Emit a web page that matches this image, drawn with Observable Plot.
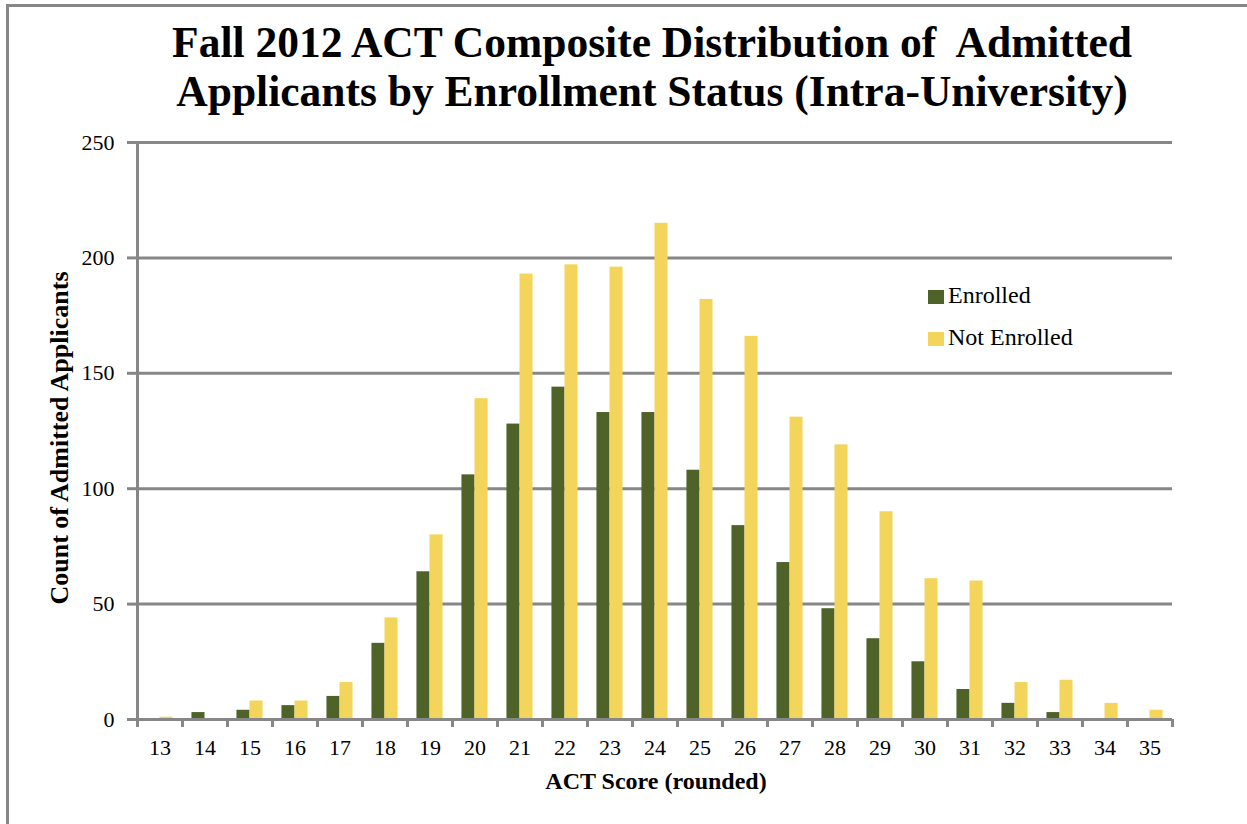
<!DOCTYPE html>
<html>
<head>
<meta charset="utf-8">
<script src="https://cdn.jsdelivr.net/npm/d3@7"></script>
<script src="https://cdn.jsdelivr.net/npm/@observablehq/plot@0.6"></script>
<style>
html, body { margin: 0; padding: 0; background: #fff; overflow: hidden; }
#wrap { position: relative; width: 1247px; height: 824px; overflow: hidden; font-family: "Liberation Serif", "Times New Roman", serif; color: #000; }
#frame { position: absolute; left: 6px; top: 4px; width: 2000px; height: 2000px; border-left: 3px solid #878787; border-top: 3px solid #878787; }
#title { position: absolute; left: 52px; width: 1200px; top: 18px; text-align: center; font-weight: bold; font-size: 43.5px; line-height: 49px; }
#ylabel { position: absolute; left: -190px; top: 423px; width: 500px; height: 30px; line-height: 30px; text-align: center; font-weight: bold; font-size: 26px; transform: rotate(-90deg); transform-origin: 250px 15px; }
#xlabel { position: absolute; left: 406px; width: 500px; top: 767px; line-height: 28px; text-align: center; font-weight: bold; font-size: 24px; }
#chart { position: absolute; left: 0; top: 0; }
.leg { position: absolute; font-size: 24px; line-height: 28px; white-space: nowrap; }
.leg .sw { display: inline-block; width: 16px; height: 14px; margin-right: 4px; vertical-align: -1px; }
</style>
</head>
<body>
<div id="wrap">
  <div id="frame"></div>
  <div id="chart"></div>
  <div id="title">Fall 2012 ACT Composite Distribution of&nbsp; Admitted<br>Applicants by Enrollment Status (Intra-University)</div>
  <div id="ylabel">Count of Admitted Applicants</div>
  <div id="xlabel">ACT Score (rounded)</div>
</div>
<script>
const scores = [13, 14, 15, 16, 17, 18, 19, 20, 21, 22, 23, 24, 25, 26, 27, 28, 29, 30, 31, 32, 33, 34, 35];
const seriesNames = ["Enrolled", "Not Enrolled"];
const enrolled =    [0, 3, 4, 6, 10, 33, 64, 106, 128, 144, 133, 133, 108, 84, 68, 48, 35, 25, 13, 7, 3, 0, 0];
const notEnrolled = [1, 0, 8, 8, 16, 44, 80, 139, 193, 197, 196, 215, 182, 166, 131, 119, 90, 61, 60, 16, 17, 7, 4];
const yTicks = [0, 50, 100, 150, 200, 250];
const colors = ["#4F6228", "#F3D55B"];
const gray = "#878787";

const data = scores.flatMap((s, i) => [
  {score: s, series: seriesNames[0], value: enrolled[i]},
  {score: s, series: seriesNames[1], value: notEnrolled[i]}
]);
const boundaries = [scores[0] - 0.5, ...scores.map(s => s + 0.5)];
const bw = 0.29;

const chart = Plot.plot({
  width: 1247,
  height: 824,
  marginLeft: 137,
  marginRight: 75,
  marginTop: 142,
  marginBottom: 105,
  style: {fontFamily: '"Liberation Serif", "Times New Roman", serif', fontSize: "22px", color: "#000", background: "transparent", overflow: "visible"},
  x: {domain: [boundaries[0], boundaries[boundaries.length - 1]]},
  y: {domain: [0, 250]},
  color: {domain: seriesNames, range: colors},
  marks: [
    Plot.gridY(yTicks, {stroke: gray, strokeOpacity: 1, strokeWidth: 3}),
    Plot.axisY(yTicks, {tickSize: 10, tickPadding: 13, stroke: gray, strokeWidth: 3, label: null, fontSize: 22}),
    Plot.rectY(data, {
      x1: d => d.series === seriesNames[0] ? d.score - bw : d.score,
      x2: d => d.series === seriesNames[0] ? d.score : d.score + bw,
      y1: 0,
      y2: "value",
      fill: "series"
    }),
    Plot.ruleY([0], {stroke: gray, strokeWidth: 3}),
    Plot.ruleX([boundaries[0]], {stroke: gray, strokeWidth: 3}),
    Plot.axisX(boundaries, {tickSize: 8, tickFormat: () => "", stroke: gray, strokeWidth: 3, label: null}),
    Plot.axisX(scores, {tickSize: 0, tickPadding: 20, label: null, tickFormat: d => String(d), fontSize: 22})
  ]
});
document.getElementById("chart").appendChild(chart);

// legend built from the series names and colours
const wrap = document.getElementById("wrap");
const legendTops = [281, 323];
seriesNames.forEach((name, i) => {
  const el = document.createElement("div");
  el.className = "leg";
  el.style.left = "928px";
  el.style.top = legendTops[i] + "px";
  const sw = document.createElement("span");
  sw.className = "sw";
  sw.style.background = colors[i];
  el.appendChild(sw);
  el.appendChild(document.createTextNode(name));
  wrap.appendChild(el);
});
</script>
</body>
</html>
